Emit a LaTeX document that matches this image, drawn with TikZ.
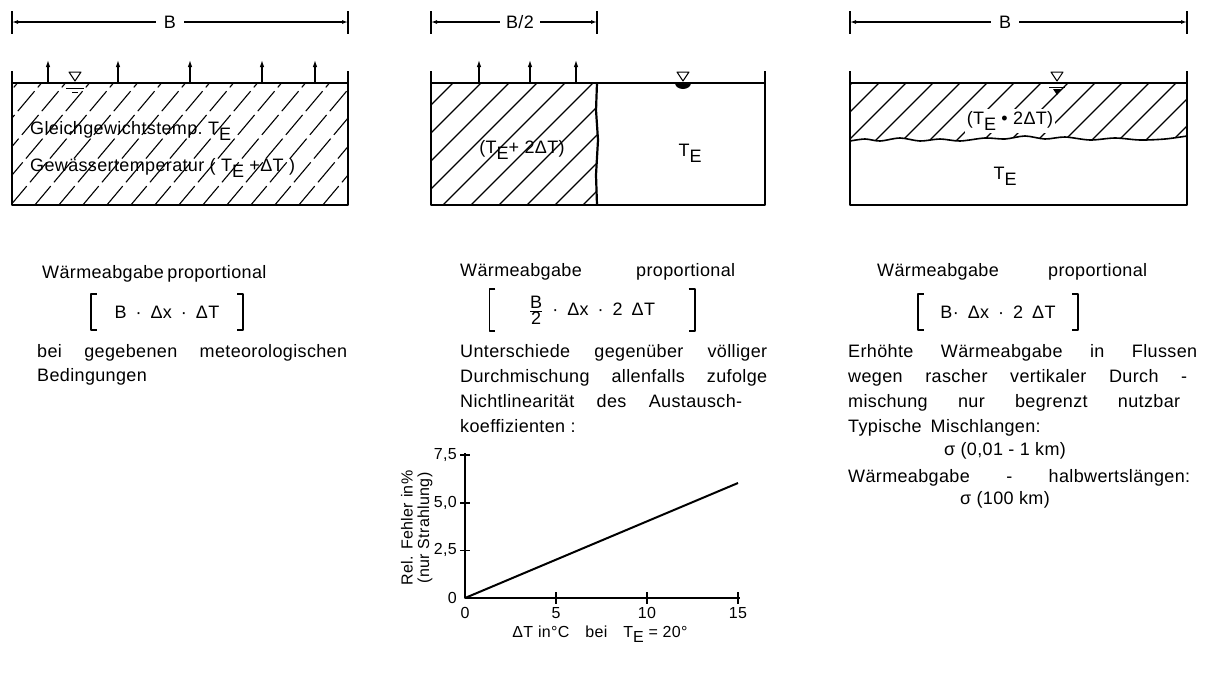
\documentclass[tikz,border=0pt]{standalone}
\usepackage{fontspec}
\setmainfont[LetterSpace=2]{Liberation Sans}
\usetikzlibrary{arrows.meta}
\newcommand{\TE}{T\raisebox{-0.35em}{E}}
\newcommand{\jl}[2]{\makebox[#1pt][s]{#2}}
\begin{document}
\begin{tikzpicture}[x=1pt,y=-1pt, line join=round,
  wall/.style={line width=2.2pt},
  surf/.style={line width=1.6pt},
  hatchline/.style={line width=1.1pt},
  dimline/.style={line width=1.1pt},
  dimarr/.style={dimline,-{Latex[length=6pt,width=4pt]}},
  uparr/.style={line width=1.2pt,-{Latex[length=7pt,width=4.5pt]}},
  lbl/.style={inner sep=0pt, font=\fontsize{18}{20}\selectfont},
  ln/.style={lbl, anchor=base west},
  brk/.style={line width=1.6pt},
  axisline/.style={line width=1.6pt},
  small/.style={inner sep=0pt, font=\fontsize{16}{18}\selectfont},
  wlev/.pic={\draw[line width=1pt] (-6,-11) -- (6,-11) -- (0,-2) -- cycle;}
]
\useasboundingbox (0,0) rectangle (1207,673);

%================ Panel 1 =================
\draw[dimline] (12,11) -- (12,34);
\draw[dimline] (348,11) -- (348,34);
\coordinate (d1l) at (12,22); \coordinate (d1r) at (348,22);
\node[lbl, inner xsep=8pt] (b1) at (170,22) {B};
\draw[dimarr] (b1.west) -- (d1l);
\draw[dimarr] (b1.east) -- (d1r);

\begin{scope}
  \clip (12,83) rectangle (348,205);
  \foreach \x in {-110,-86,...,350}
    \draw[hatchline, dash pattern=on 26pt off 5pt] (\x,206) -- ++(106,-126);
\end{scope}
\draw[wall] (12,71) -- (12,205) -- (348,205) -- (348,71);
\draw[surf] (12,83) -- (348,83);
\foreach \x in {48,118,190,262,315} \draw[uparr] (\x,83) -- (\x,60);
\pic at (75,83) {wlev};
\draw[line width=1pt] (66,88) -- (84,88);
\draw[line width=1pt] (72,92) -- (78,92);

\node[ln] (t1a) at (30,134) {Gleichgewichtstemp.\ \TE};
\node[ln] (t1b) at (30,171) {Gewässertemperatur ( \TE\ +ΔT )};

\node[ln] (h1) at (42,278) {\jl{222}{Wärmeabgabe proportional}};
\node[lbl, minimum width=152pt, minimum height=36pt] (e1) at (167,312) {B\enspace·\enspace Δx\enspace·\enspace ΔT};
\draw[brk] ([shift={(6,0)}]e1.north west) -- (e1.north west) -- (e1.south west) -- ([shift={(6,0)}]e1.south west);
\draw[brk] ([shift={(-6,0)}]e1.north east) -- (e1.north east) -- (e1.south east) -- ([shift={(-6,0)}]e1.south east);
\node[ln] (p1a) at (37,357) {\jl{310}{bei gegebenen meteorologischen}};
\node[ln] (p1b) at (37,381) {Bedingungen};

%================ Panel 2 =================
\draw[dimline] (431,11) -- (431,34);
\draw[dimline] (597,11) -- (597,34);
\coordinate (d2l) at (431,22); \coordinate (d2r) at (597,22);
\node[lbl, inner xsep=6pt] (b2) at (520,22) {B/2};
\draw[dimarr] (b2.west) -- (d2l);
\draw[dimarr] (b2.east) -- (d2r);

\begin{scope}
  \clip (431,83) rectangle (597,205);
  \foreach \x in {330,358,...,620}
    \draw[hatchline] (\x,206) -- ++(126,-126);
\end{scope}
\draw[wall] (431,71) -- (431,205) -- (765,205) -- (765,71);
\draw[surf] (431,83) -- (765,83);
\draw[wall] (597,83) -- (596,110) -- (598,140) -- (596,175) -- (597,205);
\foreach \x in {479,530,576} \draw[uparr] (\x,83) -- (\x,60);
\pic at (683,83) {wlev};
\fill (675,83) arc[start angle=180,end angle=0,x radius=8,y radius=6] -- cycle;

\node[lbl] (t2a) at (522,150) {(\TE+ 2ΔT)};
\node[lbl] (t2b) at (690,153) {\TE};

\node[ln] (h2) at (460,276) {\jl{275}{Wärmeabgabe proportional}};
\node[lbl, minimum width=205pt, minimum height=42pt] (e2) at (592,310) {$\frac{\mbox{B}}{\mbox{2}}$\enspace·\enspace Δx\enspace·\enspace 2\enspace ΔT};
\draw[brk] ([shift={(6,0)}]e2.north west) -- (e2.north west) -- (e2.south west) -- ([shift={(6,0)}]e2.south west);
\draw[brk] ([shift={(-6,0)}]e2.north east) -- (e2.north east) -- (e2.south east) -- ([shift={(-6,0)}]e2.south east);
\node[ln] (p2a) at (460,357) {\jl{307}{Unterschiede gegenüber völliger}};
\node[ln] (p2b) at (460,382) {\jl{307}{Durchmischung allenfalls zufolge}};
\node[ln] (p2c) at (460,407) {\jl{282}{Nichtlinearität des Austausch-}};
\node[ln] (p2d) at (460,432) {koeffizienten :};

% graph
\coordinate (O) at (465,598);
\coordinate (ytop) at (465,453);
\coordinate (xend) at (740,598);
\draw[axisline] (ytop) -- (O) -- (xend);
\foreach \y/\t in {550.3/2{,}5, 502.7/5{,}0, 455/7{,}5} {
  \draw[axisline] (460,\y) -- (470,\y);
  \node[small, anchor=east] at (457,\y) {\t};
}
\node[small, anchor=east] at (457,598) {0};
\foreach \x/\t in {556/5, 647/10, 738/15} {
  \draw[axisline] (\x,592) -- (\x,604);
  \node[small, anchor=north] at (\x,607) {\t};
}
\node[small, anchor=north] at (465,607) {0};
\coordinate (cend) at (738,483);
\draw[line width=2pt] (O) -- (cend);
\node[small, rotate=90] (ya) at (407,528) {Rel. Fehler in\%};
\node[small, rotate=90] (yb) at (425,528) {(nur Strahlung)};
\node[small] (xa) at (600,634) {ΔT in°C\quad bei\quad \TE\ = 20°};

%================ Panel 3 =================
\draw[dimline] (850,11) -- (850,34);
\draw[dimline] (1187,11) -- (1187,34);
\coordinate (d3l) at (850,22); \coordinate (d3r) at (1187,22);
\node[lbl, inner xsep=8pt] (b3) at (1005,22) {B};
\draw[dimarr] (b3.west) -- (d3l);
\draw[dimarr] (b3.east) -- (d3r);

\begin{scope}
  \clip (850,83) -- (1187,83) -- (1187,136) -- plot[smooth] coordinates {(1187,136) (1165,139) (1140,140) (1115,138) (1090,140) (1065,137) (1045,139) (1025,136) (1005,139) (985,138) (960,141) (940,139) (920,141) (900,138) (880,141) (865,139) (850,141)} -- cycle;
  \foreach \x in {790,817,...,1200}
    \draw[hatchline] (\x,145) -- ++(66,-66);
\end{scope}
\draw[line width=1.6pt] plot[smooth] coordinates {(850,141) (865,139) (880,141) (900,138) (920,141) (940,139) (960,141) (985,138) (1005,139) (1025,136) (1045,139) (1065,137) (1090,140) (1115,138) (1140,140) (1165,139) (1187,136)};
\draw[wall] (850,71) -- (850,205) -- (1187,205) -- (1187,71);
\draw[surf] (850,83) -- (1187,83);
\pic at (1057,83) {wlev};
\draw[line width=1pt] (1049,87) -- (1065,87);
\fill (1053,89) -- (1061,89) -- (1057,95) -- cycle;

\node[lbl, fill=white, inner sep=2pt] (t3a) at (1010,121) {(\TE\ • 2ΔT)};
\node[lbl] (t3b) at (1005,176) {\TE};

\node[ln] (h3) at (877,276) {\jl{270}{Wärmeabgabe proportional}};
\node[lbl, minimum width=160pt, minimum height=36pt] (e3) at (998,312) {B·\enspace Δx\enspace·\enspace 2\enspace ΔT};
\draw[brk] ([shift={(6,0)}]e3.north west) -- (e3.north west) -- (e3.south west) -- ([shift={(6,0)}]e3.south west);
\draw[brk] ([shift={(-6,0)}]e3.north east) -- (e3.north east) -- (e3.south east) -- ([shift={(-6,0)}]e3.south east);
\node[ln] (p3a) at (848,357) {\jl{349}{Erhöhte Wärmeabgabe in Flussen}};
\node[ln] (p3b) at (848,382) {\jl{339}{wegen rascher vertikaler Durch -}};
\node[ln] (p3c) at (848,407) {\jl{332}{mischung nur begrenzt nutzbar}};
\node[ln] (p3d) at (848,432) {Typische\enspace Mischlangen:};
\node[lbl] (p3e) at (1005,451) {σ (0,01 - 1 km)};
\node[ln] (p3f) at (848,482) {\jl{342}{Wärmeabgabe - halbwertslängen:}};
\node[lbl] (p3g) at (1005,500) {σ (100 km)};
\end{tikzpicture}
\end{document}
